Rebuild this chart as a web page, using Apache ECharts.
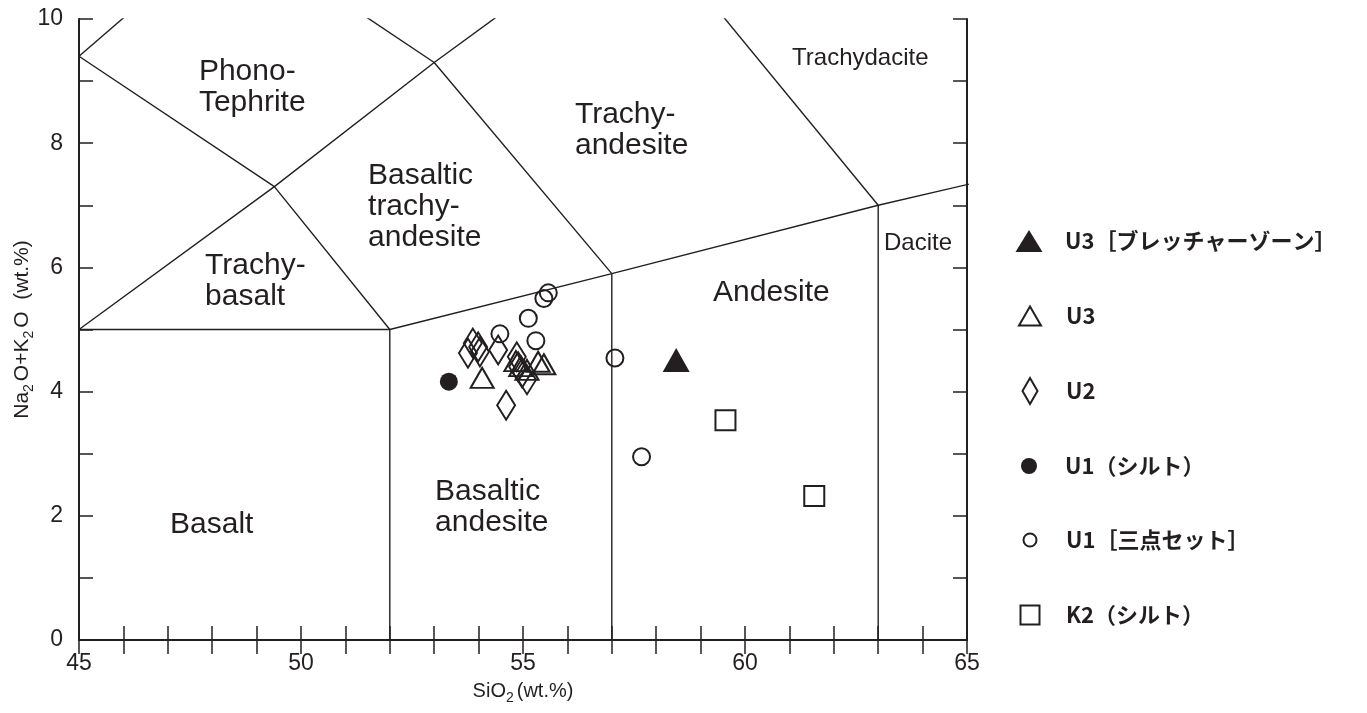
<!DOCTYPE html>
<html>
<head>
<meta charset="utf-8">
<script src="https://cdn.jsdelivr.net/npm/echarts@6/dist/echarts.min.js"></script>
<style>
  html, body { margin: 0; padding: 0; background: #fff; }
  #chart { width: 1367px; height: 713px; }
</style>
</head>
<body>
<div id="chart"></div>
<script>
const INK = '#231f20'
const SANS = '"Liberation Sans", Arial, sans-serif'
const JP = '"Noto Sans CJK JP", sans-serif'

// TAS field boundaries (Le Bas et al. 1986); parts outside the frame get clipped
const boundaries = [
    [[45, 5], [52, 5]],
    [[52, 0], [52, 5]],
    [[57, 0], [57, 5.9]],
    [[63, 0], [63, 7]],
    [[52, 5], [57, 5.9], [63, 7], [69, 8]],
    [[45, 5], [49.4, 7.3], [52, 5]],
    [[45, 9.4], [49.4, 7.3], [53, 9.3], [57.6, 11.7]],
    [[45, 9.4], [48.4, 11.5]],
    [[48.4, 11.5], [53, 9.3], [57, 5.9]],
    [[57.6, 11.7], [63, 7]],
]

const fieldNames = ['Phono-\nTephrite', 'Trachy-\nandesite', 'Basaltic\ntrachy-\nandesite', 'Trachy-\nbasalt', 'Andesite', 'Basaltic\nandesite', 'Basalt']
const fieldAt = [[47.7, 8.9], [56.17, 8.21], [51.51, 6.97], [47.84, 5.78], [59.28, 5.59], [53.02, 2.14], [47.05, 1.85]]
const smallFieldNames = ['Trachydacite', 'Dacite']
const smallFieldAt = [[61.06, 9.37], [63.13, 6.39]]

const seriesNames = ['U3［ブレッチャーゾーン］', 'U3', 'U2', 'U1（シルト）', 'U1［三点セット］', 'K2（シルト）']

// SiO2, Na2O+K2O (wt.%)
const u3Breccia = [[58.45, 4.51]]
const u3 = [[54.08, 4.22], [54.84, 4.49], [54.95, 4.41], [55.09, 4.35], [55.34, 4.48], [55.47, 4.44]]
const u2 = [[53.76, 4.62], [53.87, 4.78], [53.99, 4.72], [54.03, 4.64], [54.44, 4.67], [54.86, 4.56], [54.89, 4.4], [54.98, 4.3], [55.09, 4.19], [54.62, 3.78]]
const u1Silt = [[53.33, 4.16]]
const u1Set = [[55.57, 5.59], [55.47, 5.5], [55.12, 5.18], [54.48, 4.93], [55.29, 4.82], [57.07, 4.54], [57.67, 2.95]]
const k2Silt = [[59.56, 3.54], [61.56, 2.32]]

const xTicks = [45, 50, 55, 60, 65]
const yTicks = [0, 2, 4, 6, 8, 10]

const filled = { color: INK, opacity: 1, borderWidth: 0 }
const open = { color: 'rgba(255,255,255,0)', borderColor: INK, borderWidth: 2, opacity: 1 }

const markers = [
    { data: u3Breccia, symbol: 'triangle', size: [27, 24], style: filled, icon: [27, 22] },
    { data: u3, symbol: 'triangle', size: [23, 20], style: open, icon: [22, 19] },
    { data: u2, symbol: 'diamond', size: [18, 29], style: open, icon: [15, 26] },
    { data: u1Silt, symbol: 'circle', size: 18, style: filled, icon: [16, 16] },
    { data: u1Set, symbol: 'circle', size: 17, style: open, icon: [13, 13] },
    { data: k2Silt, symbol: 'rect', size: 20, style: open, icon: [19, 19] },
]
const legendRowY = [241, 316, 391, 466, 540, 615]

const tickAxis = (extra) => ({
    type: 'value',
    interval: 1,
    axisLine: { show: true, lineStyle: { color: INK, width: 2 } },
    axisTick: { show: true, inside: true, length: 14, lineStyle: { color: INK, width: 1.5 } },
    splitLine: { show: false },
    ...extra,
})

const series = boundaries.map((pts) => ({
    type: 'line',
    data: pts,
    symbol: 'none',
    silent: true,
    clip: true,
    lineStyle: { color: INK, width: 1.4, opacity: 1 },
    z: 2,
}))

const fieldLabel = (names, at, fontSize) => ({
    type: 'scatter',
    silent: true,
    symbolSize: 0,
    itemStyle: { opacity: 1 },
    data: names.map((n, i) => [at[i][0], at[i][1], n]),
    label: {
        show: true, position: 'right', distance: 0, formatter: (p) => p.value[2],
        fontFamily: SANS, fontSize, lineHeight: Math.round(fontSize * 1.04), color: INK,
    },
    z: 3,
})
series.push(fieldLabel(fieldNames, fieldAt, 30))
series.push(fieldLabel(smallFieldNames, smallFieldAt, 24))

markers.forEach((m, i) => {
    series.push({
        name: seriesNames[i],
        type: 'scatter',
        data: m.data,
        symbol: m.symbol,
        symbolSize: m.size,
        itemStyle: m.style,
        z: 5,
    })
})

const legends = markers.map((m, i) => {
    const [w, h] = m.icon
    return {
        data: [seriesNames[i]],
        orient: 'vertical',
        left: 1029 - w / 2,
        top: legendRowY[i] - 15,
        padding: 0,
        itemWidth: w,
        itemHeight: h,
        selectedMode: false,
        itemStyle: m.style,
        textStyle: {
            fontFamily: JP, fontSize: 22, fontWeight: 'bold', color: INK,
            lineHeight: 30, padding: [0, 0, 0, 31 - w / 2],
        },
    }
})

const nameRich = (size) => ({
    n: { fontFamily: SANS, fontSize: size, color: INK },
    s: { fontFamily: SANS, fontSize: 14, color: INK, padding: [14, 3, 0, 0] },
})

const chart = echarts.init(document.getElementById('chart'))
chart.setOption({
    animation: false,
    backgroundColor: '#fff',
    grid: { left: 79, right: 400, top: 19, bottom: 73, containLabel: false, outerBoundsMode: 'none' },
    xAxis: [
        tickAxis({
            min: 45, max: 65, position: 'bottom',
            axisLabel: {
                fontFamily: SANS, fontSize: 23, color: INK, margin: 12,
                formatter: (v) => (xTicks.includes(v) ? String(v) : ''),
            },
            name: '{n|SiO}{s|2}{n|(wt.%)}',
            nameLocation: 'middle',
            nameGap: 37,
            nameMoveOverlap: false,
            nameTextStyle: { rich: nameRich(20) },
        }),
        tickAxis({ min: 45, max: 65, position: 'top', axisLabel: { show: false } }),
    ],
    yAxis: [
        tickAxis({
            min: 0, max: 10, position: 'left',
            axisLabel: {
                fontFamily: SANS, fontSize: 23, color: INK, margin: 16,
                formatter: (v) => (yTicks.includes(v) ? String(v) : ''),
            },
            name: '{n|Na}{s|2}{n|O+K}{s|2}{n|O  (wt.%)}',
            nameLocation: 'middle',
            nameGap: 43,
            nameMoveOverlap: false,
            nameTextStyle: { rich: nameRich(21) },
        }),
        tickAxis({ min: 0, max: 10, position: 'right', axisLabel: { show: false } }),
    ],
    legend: legends,
    series,
})
</script>
</body>
</html>
